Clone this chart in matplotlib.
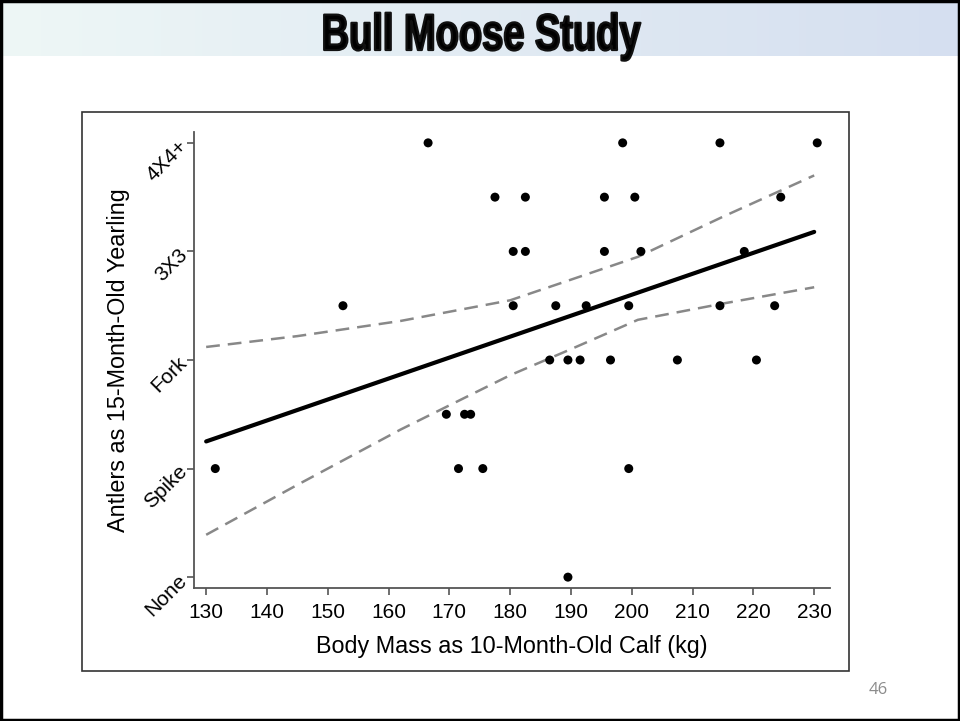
import numpy as np
import matplotlib
matplotlib.use("Agg")
import matplotlib.pyplot as plt
import matplotlib.patheffects as pe
from matplotlib.colors import LinearSegmentedColormap
from matplotlib.patches import Rectangle
from matplotlib.transforms import Affine2D

# ---------------------------------------------------
# data
# ---------------------------------------------------
antler_levels = ["None", "Spike", "Fork", "3X3", "4X4+"]
mass_ticks = [130, 140, 150, 160, 170, 180, 190, 200, 210, 220, 230]

calf_mass = [166.5, 198.5, 214.5, 230.5,
             177.5, 182.5, 195.5, 200.5, 224.5,
             180.5, 182.5, 195.5, 201.5, 218.5,
             152.5, 180.5, 187.5, 192.5, 199.5, 214.5, 223.5,
             186.5, 189.5, 191.5, 196.5, 207.5, 220.5,
             169.5, 172.5, 173.5,
             131.5, 171.5, 175.5, 199.5,
             189.5]
antler_score = [4, 4, 4, 4,
                3.5, 3.5, 3.5, 3.5, 3.5,
                3, 3, 3, 3, 3,
                2.5, 2.5, 2.5, 2.5, 2.5, 2.5, 2.5,
                2, 2, 2, 2, 2, 2,
                1.5, 1.5, 1.5,
                1, 1, 1, 1,
                0]

fit_x = [130, 230]
fit_y = [1.25, 3.18]

band_x = [130, 145, 162, 180, 190, 201, 215, 230]
band_upper = [2.12, 2.22, 2.36, 2.55, 2.74, 2.95, 3.32, 3.70]
band_lower = [0.39, 0.85, 1.36, 1.86, 2.10, 2.37, 2.52, 2.67]


# narrow heavy title lettering: squeeze the glyphs horizontally
class Squeeze(pe.AbstractPathEffect):
    def __init__(self, sx, cx, lw, color):
        super().__init__()
        self.sx, self.cx, self.lw, self.color = sx, cx, lw, color

    def draw_path(self, renderer, gc, tpath, affine, rgbFace=None):
        aff = affine + Affine2D().translate(-self.cx, 0).scale(self.sx, 1).translate(self.cx, 0)
        gc0 = renderer.new_gc()
        gc0.copy_properties(gc)
        gc0.set_linewidth(self.lw)
        gc0.set_foreground(self.color)
        renderer.draw_path(gc0, tpath, aff, rgbFace)
        gc0.restore()


# ---------------------------------------------------
# figure / slide frame
# ---------------------------------------------------
plt.rcParams["font.family"] = ["Liberation Sans", "DejaVu Sans"]

fig = plt.figure(figsize=(9.6, 7.21), dpi=100)

# title band with gradient
band_ax = fig.add_axes([0, 1 - 56 / 721, 1, 56 / 721])
grad = np.linspace(0, 1, 256).reshape(1, -1)
cmap = LinearSegmentedColormap.from_list("slide", ["#eef7f6", "#d5dff0"])
band_ax.imshow(grad, aspect="auto", cmap=cmap, extent=[0, 1, 0, 1])
band_ax.set_axis_off()

fig.text(481 / 960, 1 - 50 / 721, "Bull Moose Study", ha="center", va="baseline",
         fontsize=37, fontweight="bold", color="black",
         path_effects=[Squeeze(0.74, 481, 1.6, "#111111")])

# chart box
fig.patches.append(Rectangle((82 / 960, 1 - 671 / 721), (849 - 82) / 960,
                             (671 - 112) / 721, transform=fig.transFigure,
                             fill=False, edgecolor="#333333", linewidth=1.2))
# slide border
fig.patches.append(Rectangle((0.001, 0.0015), 0.998, 0.997,
                             transform=fig.transFigure, fill=False,
                             edgecolor="black", linewidth=2.5))

fig.text(878 / 960, 1 - 690 / 721, "46", ha="center", va="center",
         fontsize=12, color="#8c8c8c", family=["Open Sans", "DejaVu Sans"])

# ---------------------------------------------------
# scatter plot
# ---------------------------------------------------
ax = fig.add_axes([194 / 960, 1 - 588 / 721, (830 - 194) / 960, (588 - 132) / 721])

ax.plot(band_x, band_upper, color="#888888", linewidth=1.8,
        linestyle=(0, (5.5, 3.2)))
ax.plot(band_x, band_lower, color="#888888", linewidth=1.8,
        linestyle=(0, (5.5, 3.2)))
ax.plot(fit_x, fit_y, color="black", linewidth=3.0, solid_capstyle="round")
ax.scatter(calf_mass, antler_score, s=42, color="black", zorder=3,
           edgecolors="none")

ax.set_xlim(128.0, 232.6)
ax.set_ylim(-0.1, 4.1)

ax.set_xticks(mass_ticks)
ax.set_yticks(range(len(antler_levels)))
ax.set_yticklabels(antler_levels, rotation=45, rotation_mode="anchor",
                   ha="right", va="center")

for side in ["top", "right"]:
    ax.spines[side].set_visible(False)
for side in ["left", "bottom"]:
    ax.spines[side].set_color("#555555")
    ax.spines[side].set_linewidth(1.3)

ax.tick_params(axis="both", colors="#555555", labelcolor="black",
               labelsize=15, length=5, width=1.2)
ax.tick_params(axis="x", pad=6)
ax.tick_params(axis="y", pad=2)

ax.set_xlabel("Body Mass as 10-Month-Old Calf (kg)", fontsize=16.8, labelpad=9)
ax.set_ylabel("Antlers as 15-Month-Old Yearling", fontsize=16.8, labelpad=8)

fig.savefig("out.png", dpi=100)
